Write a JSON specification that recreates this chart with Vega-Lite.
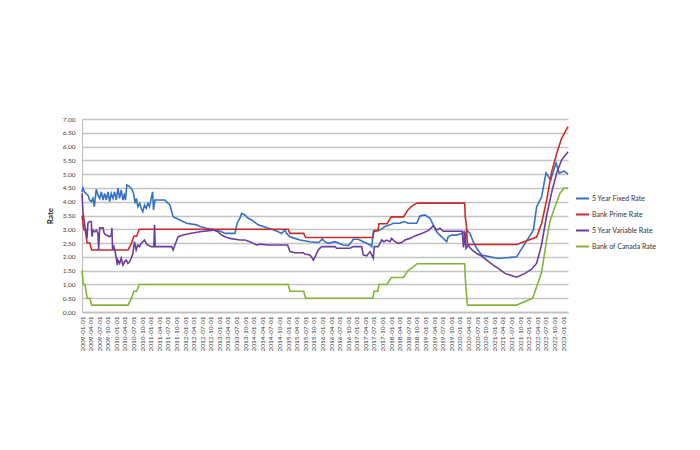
{
 "$schema": "https://vega.github.io/schema/vega-lite/v6.json",
 "width": 486,
 "height": 193,
 "autosize": {"type": "none"},
 "padding": {"left": 82, "top": 119, "right": 132, "bottom": 138},
 "background": "white",
 "config": {"font": "Lato", "view": {"stroke": null}},
 "datasets": {
  "rates": [
   {"date":"2009-01-01","series":"5 Year Fixed Rate","rate":4.35},
   {"date":"2009-01-10","series":"5 Year Fixed Rate","rate":4.5},
   {"date":"2009-01-28","series":"5 Year Fixed Rate","rate":4.35},
   {"date":"2009-03-05","series":"5 Year Fixed Rate","rate":4.24},
   {"date":"2009-03-23","series":"5 Year Fixed Rate","rate":4.06},
   {"date":"2009-04-10","series":"5 Year Fixed Rate","rate":4.0},
   {"date":"2009-04-27","series":"5 Year Fixed Rate","rate":4.12},
   {"date":"2009-05-12","series":"5 Year Fixed Rate","rate":3.82},
   {"date":"2009-06-02","series":"5 Year Fixed Rate","rate":4.45},
   {"date":"2009-06-20","series":"5 Year Fixed Rate","rate":4.24},
   {"date":"2009-07-08","series":"5 Year Fixed Rate","rate":4.12},
   {"date":"2009-07-25","series":"5 Year Fixed Rate","rate":4.36},
   {"date":"2009-08-12","series":"5 Year Fixed Rate","rate":4.06},
   {"date":"2009-08-29","series":"5 Year Fixed Rate","rate":4.3},
   {"date":"2009-09-16","series":"5 Year Fixed Rate","rate":4.06},
   {"date":"2009-10-04","series":"5 Year Fixed Rate","rate":4.36},
   {"date":"2009-10-22","series":"5 Year Fixed Rate","rate":4.0},
   {"date":"2009-11-08","series":"5 Year Fixed Rate","rate":4.3},
   {"date":"2009-11-26","series":"5 Year Fixed Rate","rate":4.12},
   {"date":"2009-12-13","series":"5 Year Fixed Rate","rate":4.36},
   {"date":"2009-12-31","series":"5 Year Fixed Rate","rate":4.06},
   {"date":"2010-01-18","series":"5 Year Fixed Rate","rate":4.49},
   {"date":"2010-02-04","series":"5 Year Fixed Rate","rate":4.12},
   {"date":"2010-02-22","series":"5 Year Fixed Rate","rate":4.43},
   {"date":"2010-03-12","series":"5 Year Fixed Rate","rate":4.06},
   {"date":"2010-03-29","series":"5 Year Fixed Rate","rate":4.3},
   {"date":"2010-04-08","series":"5 Year Fixed Rate","rate":4.06},
   {"date":"2010-04-22","series":"5 Year Fixed Rate","rate":4.61},
   {"date":"2010-05-20","series":"5 Year Fixed Rate","rate":4.55},
   {"date":"2010-06-15","series":"5 Year Fixed Rate","rate":4.45},
   {"date":"2010-07-03","series":"5 Year Fixed Rate","rate":4.3},
   {"date":"2010-07-20","series":"5 Year Fixed Rate","rate":3.94},
   {"date":"2010-08-03","series":"5 Year Fixed Rate","rate":4.12},
   {"date":"2010-08-17","series":"5 Year Fixed Rate","rate":3.82},
   {"date":"2010-09-07","series":"5 Year Fixed Rate","rate":3.94},
   {"date":"2010-09-22","series":"5 Year Fixed Rate","rate":3.76},
   {"date":"2010-10-09","series":"5 Year Fixed Rate","rate":3.64},
   {"date":"2010-10-27","series":"5 Year Fixed Rate","rate":3.88},
   {"date":"2010-11-14","series":"5 Year Fixed Rate","rate":3.76},
   {"date":"2010-12-02","series":"5 Year Fixed Rate","rate":3.94},
   {"date":"2010-12-19","series":"5 Year Fixed Rate","rate":3.82},
   {"date":"2011-01-07","series":"5 Year Fixed Rate","rate":4.12},
   {"date":"2011-01-21","series":"5 Year Fixed Rate","rate":4.36},
   {"date":"2011-01-31","series":"5 Year Fixed Rate","rate":3.7},
   {"date":"2011-02-15","series":"5 Year Fixed Rate","rate":4.06},
   {"date":"2011-06-01","series":"5 Year Fixed Rate","rate":4.06},
   {"date":"2011-07-24","series":"5 Year Fixed Rate","rate":3.88},
   {"date":"2011-08-28","series":"5 Year Fixed Rate","rate":3.46},
   {"date":"2011-11-07","series":"5 Year Fixed Rate","rate":3.34},
   {"date":"2012-01-18","series":"5 Year Fixed Rate","rate":3.22},
   {"date":"2012-05-03","series":"5 Year Fixed Rate","rate":3.16},
   {"date":"2012-06-07","series":"5 Year Fixed Rate","rate":3.1},
   {"date":"2012-08-17","series":"5 Year Fixed Rate","rate":3.04},
   {"date":"2012-11-14","series":"5 Year Fixed Rate","rate":2.98},
   {"date":"2013-01-24","series":"5 Year Fixed Rate","rate":2.91},
   {"date":"2013-02-28","series":"5 Year Fixed Rate","rate":2.85},
   {"date":"2013-06-14","series":"5 Year Fixed Rate","rate":2.85},
   {"date":"2013-07-08","series":"5 Year Fixed Rate","rate":3.22},
   {"date":"2013-08-07","series":"5 Year Fixed Rate","rate":3.4},
   {"date":"2013-08-25","series":"5 Year Fixed Rate","rate":3.58},
   {"date":"2013-09-28","series":"5 Year Fixed Rate","rate":3.52},
   {"date":"2013-11-02","series":"5 Year Fixed Rate","rate":3.4},
   {"date":"2013-12-09","series":"5 Year Fixed Rate","rate":3.34},
   {"date":"2014-02-17","series":"5 Year Fixed Rate","rate":3.16},
   {"date":"2014-04-11","series":"5 Year Fixed Rate","rate":3.1},
   {"date":"2014-06-03","series":"5 Year Fixed Rate","rate":3.04},
   {"date":"2014-07-26","series":"5 Year Fixed Rate","rate":2.98},
   {"date":"2014-09-17","series":"5 Year Fixed Rate","rate":2.91},
   {"date":"2014-10-23","series":"5 Year Fixed Rate","rate":2.85},
   {"date":"2014-11-27","series":"5 Year Fixed Rate","rate":2.98},
   {"date":"2014-12-16","series":"5 Year Fixed Rate","rate":2.85},
   {"date":"2015-01-20","series":"5 Year Fixed Rate","rate":2.73},
   {"date":"2015-03-14","series":"5 Year Fixed Rate","rate":2.67},
   {"date":"2015-05-06","series":"5 Year Fixed Rate","rate":2.61},
   {"date":"2015-08-20","series":"5 Year Fixed Rate","rate":2.55},
   {"date":"2015-11-24","series":"5 Year Fixed Rate","rate":2.52},
   {"date":"2015-12-29","series":"5 Year Fixed Rate","rate":2.65},
   {"date":"2016-01-27","series":"5 Year Fixed Rate","rate":2.55},
   {"date":"2016-03-03","series":"5 Year Fixed Rate","rate":2.49},
   {"date":"2016-05-12","series":"5 Year Fixed Rate","rate":2.55},
   {"date":"2016-08-08","series":"5 Year Fixed Rate","rate":2.43},
   {"date":"2016-10-01","series":"5 Year Fixed Rate","rate":2.41},
   {"date":"2016-11-06","series":"5 Year Fixed Rate","rate":2.55},
   {"date":"2016-11-23","series":"5 Year Fixed Rate","rate":2.64},
   {"date":"2017-01-15","series":"5 Year Fixed Rate","rate":2.64},
   {"date":"2017-03-09","series":"5 Year Fixed Rate","rate":2.55},
   {"date":"2017-04-15","series":"5 Year Fixed Rate","rate":2.49},
   {"date":"2017-05-20","series":"5 Year Fixed Rate","rate":2.43},
   {"date":"2017-06-07","series":"5 Year Fixed Rate","rate":2.37},
   {"date":"2017-06-15","series":"5 Year Fixed Rate","rate":2.62},
   {"date":"2017-06-24","series":"5 Year Fixed Rate","rate":2.91},
   {"date":"2017-09-03","series":"5 Year Fixed Rate","rate":2.98},
   {"date":"2017-10-26","series":"5 Year Fixed Rate","rate":3.1},
   {"date":"2017-12-18","series":"5 Year Fixed Rate","rate":3.16},
   {"date":"2018-01-22","series":"5 Year Fixed Rate","rate":3.22},
   {"date":"2018-04-03","series":"5 Year Fixed Rate","rate":3.22},
   {"date":"2018-05-16","series":"5 Year Fixed Rate","rate":3.28},
   {"date":"2018-07-01","series":"5 Year Fixed Rate","rate":3.22},
   {"date":"2018-09-28","series":"5 Year Fixed Rate","rate":3.22},
   {"date":"2018-11-02","series":"5 Year Fixed Rate","rate":3.48},
   {"date":"2018-12-25","series":"5 Year Fixed Rate","rate":3.52},
   {"date":"2019-02-16","series":"5 Year Fixed Rate","rate":3.4},
   {"date":"2019-03-23","series":"5 Year Fixed Rate","rate":3.16},
   {"date":"2019-04-28","series":"5 Year Fixed Rate","rate":2.91},
   {"date":"2019-06-02","series":"5 Year Fixed Rate","rate":2.79},
   {"date":"2019-07-25","series":"5 Year Fixed Rate","rate":2.61},
   {"date":"2019-08-12","series":"5 Year Fixed Rate","rate":2.55},
   {"date":"2019-08-29","series":"5 Year Fixed Rate","rate":2.73},
   {"date":"2019-10-05","series":"5 Year Fixed Rate","rate":2.79},
   {"date":"2019-11-27","series":"5 Year Fixed Rate","rate":2.79},
   {"date":"2020-01-19","series":"5 Year Fixed Rate","rate":2.85},
   {"date":"2020-02-16","series":"5 Year Fixed Rate","rate":2.91},
   {"date":"2020-02-23","series":"5 Year Fixed Rate","rate":2.43},
   {"date":"2020-03-12","series":"5 Year Fixed Rate","rate":2.98},
   {"date":"2020-04-16","series":"5 Year Fixed Rate","rate":2.85},
   {"date":"2020-05-21","series":"5 Year Fixed Rate","rate":2.55},
   {"date":"2020-06-27","series":"5 Year Fixed Rate","rate":2.3},
   {"date":"2020-08-19","series":"5 Year Fixed Rate","rate":2.07},
   {"date":"2020-11-15","series":"5 Year Fixed Rate","rate":2.0},
   {"date":"2021-02-12","series":"5 Year Fixed Rate","rate":1.94},
   {"date":"2021-08-25","series":"5 Year Fixed Rate","rate":2.0},
   {"date":"2021-11-22","series":"5 Year Fixed Rate","rate":2.49},
   {"date":"2022-02-19","series":"5 Year Fixed Rate","rate":2.97},
   {"date":"2022-03-26","series":"5 Year Fixed Rate","rate":3.82},
   {"date":"2022-05-18","series":"5 Year Fixed Rate","rate":4.18},
   {"date":"2022-07-03","series":"5 Year Fixed Rate","rate":5.05},
   {"date":"2022-08-22","series":"5 Year Fixed Rate","rate":4.79},
   {"date":"2022-10-18","series":"5 Year Fixed Rate","rate":5.4},
   {"date":"2022-11-21","series":"5 Year Fixed Rate","rate":5.03},
   {"date":"2023-01-10","series":"5 Year Fixed Rate","rate":5.11},
   {"date":"2023-02-22","series":"5 Year Fixed Rate","rate":5.0},

   {"date":"2009-01-01","series":"Bank Prime Rate","rate":3.5},
   {"date":"2009-01-20","series":"Bank Prime Rate","rate":3.0},
   {"date":"2009-02-05","series":"Bank Prime Rate","rate":2.95},
   {"date":"2009-02-25","series":"Bank Prime Rate","rate":2.5},
   {"date":"2009-03-25","series":"Bank Prime Rate","rate":2.5},
   {"date":"2009-04-13","series":"Bank Prime Rate","rate":2.25},
   {"date":"2010-05-06","series":"Bank Prime Rate","rate":2.25},
   {"date":"2010-06-11","series":"Bank Prime Rate","rate":2.5},
   {"date":"2010-07-06","series":"Bank Prime Rate","rate":2.75},
   {"date":"2010-08-04","series":"Bank Prime Rate","rate":2.75},
   {"date":"2010-09-01","series":"Bank Prime Rate","rate":3.0},
   {"date":"2015-01-01","series":"Bank Prime Rate","rate":3.0},
   {"date":"2015-01-20","series":"Bank Prime Rate","rate":2.85},
   {"date":"2015-06-15","series":"Bank Prime Rate","rate":2.85},
   {"date":"2015-07-06","series":"Bank Prime Rate","rate":2.7},
   {"date":"2017-06-20","series":"Bank Prime Rate","rate":2.7},
   {"date":"2017-07-01","series":"Bank Prime Rate","rate":2.95},
   {"date":"2017-08-12","series":"Bank Prime Rate","rate":2.95},
   {"date":"2017-08-23","series":"Bank Prime Rate","rate":3.2},
   {"date":"2017-11-16","series":"Bank Prime Rate","rate":3.2},
   {"date":"2018-01-01","series":"Bank Prime Rate","rate":3.45},
   {"date":"2018-05-11","series":"Bank Prime Rate","rate":3.45},
   {"date":"2018-06-26","series":"Bank Prime Rate","rate":3.7},
   {"date":"2018-08-10","series":"Bank Prime Rate","rate":3.85},
   {"date":"2018-10-03","series":"Bank Prime Rate","rate":3.95},
   {"date":"2020-02-20","series":"Bank Prime Rate","rate":3.95},
   {"date":"2020-02-26","series":"Bank Prime Rate","rate":3.45},
   {"date":"2020-03-08","series":"Bank Prime Rate","rate":3.2},
   {"date":"2020-03-20","series":"Bank Prime Rate","rate":2.45},
   {"date":"2021-08-25","series":"Bank Prime Rate","rate":2.45},
   {"date":"2022-03-26","series":"Bank Prime Rate","rate":2.72},
   {"date":"2022-05-18","series":"Bank Prime Rate","rate":3.22},
   {"date":"2022-07-10","series":"Bank Prime Rate","rate":4.06},
   {"date":"2022-09-02","series":"Bank Prime Rate","rate":5.09},
   {"date":"2022-10-25","series":"Bank Prime Rate","rate":5.75},
   {"date":"2022-12-16","series":"Bank Prime Rate","rate":6.3},
   {"date":"2023-02-22","series":"Bank Prime Rate","rate":6.72},

   {"date":"2009-01-01","series":"5 Year Variable Rate","rate":4.3},
   {"date":"2009-01-11","series":"5 Year Variable Rate","rate":3.64},
   {"date":"2009-01-29","series":"5 Year Variable Rate","rate":3.16},
   {"date":"2009-02-16","series":"5 Year Variable Rate","rate":2.85},
   {"date":"2009-02-23","series":"5 Year Variable Rate","rate":2.67},
   {"date":"2009-03-05","series":"5 Year Variable Rate","rate":3.22},
   {"date":"2009-03-23","series":"5 Year Variable Rate","rate":3.28},
   {"date":"2009-04-10","series":"5 Year Variable Rate","rate":3.28},
   {"date":"2009-04-17","series":"5 Year Variable Rate","rate":2.73},
   {"date":"2009-04-27","series":"5 Year Variable Rate","rate":2.97},
   {"date":"2009-05-15","series":"5 Year Variable Rate","rate":2.91},
   {"date":"2009-06-02","series":"5 Year Variable Rate","rate":2.97},
   {"date":"2009-06-20","series":"5 Year Variable Rate","rate":2.85},
   {"date":"2009-06-27","series":"5 Year Variable Rate","rate":2.25},
   {"date":"2009-07-08","series":"5 Year Variable Rate","rate":3.05},
   {"date":"2009-07-25","series":"5 Year Variable Rate","rate":3.05},
   {"date":"2009-08-12","series":"5 Year Variable Rate","rate":3.05},
   {"date":"2009-08-25","series":"5 Year Variable Rate","rate":2.85},
   {"date":"2009-09-16","series":"5 Year Variable Rate","rate":2.79},
   {"date":"2009-10-22","series":"5 Year Variable Rate","rate":2.73},
   {"date":"2009-11-08","series":"5 Year Variable Rate","rate":2.79},
   {"date":"2009-11-15","series":"5 Year Variable Rate","rate":3.05},
   {"date":"2009-11-22","series":"5 Year Variable Rate","rate":2.25},
   {"date":"2009-12-06","series":"5 Year Variable Rate","rate":2.37},
   {"date":"2009-12-20","series":"5 Year Variable Rate","rate":2.19},
   {"date":"2009-12-31","series":"5 Year Variable Rate","rate":1.95},
   {"date":"2010-01-11","series":"5 Year Variable Rate","rate":1.7},
   {"date":"2010-01-18","series":"5 Year Variable Rate","rate":1.88},
   {"date":"2010-02-05","series":"5 Year Variable Rate","rate":1.76},
   {"date":"2010-02-22","series":"5 Year Variable Rate","rate":1.95},
   {"date":"2010-03-12","series":"5 Year Variable Rate","rate":1.7},
   {"date":"2010-03-29","series":"5 Year Variable Rate","rate":1.82},
   {"date":"2010-04-16","series":"5 Year Variable Rate","rate":1.88},
   {"date":"2010-05-04","series":"5 Year Variable Rate","rate":1.76},
   {"date":"2010-05-21","series":"5 Year Variable Rate","rate":1.82},
   {"date":"2010-06-08","series":"5 Year Variable Rate","rate":1.95},
   {"date":"2010-06-26","series":"5 Year Variable Rate","rate":2.13},
   {"date":"2010-07-06","series":"5 Year Variable Rate","rate":2.37},
   {"date":"2010-07-13","series":"5 Year Variable Rate","rate":2.55},
   {"date":"2010-07-31","series":"5 Year Variable Rate","rate":2.25},
   {"date":"2010-08-17","series":"5 Year Variable Rate","rate":2.43},
   {"date":"2010-09-04","series":"5 Year Variable Rate","rate":2.37},
   {"date":"2010-09-22","series":"5 Year Variable Rate","rate":2.49},
   {"date":"2010-10-09","series":"5 Year Variable Rate","rate":2.55},
   {"date":"2010-10-27","series":"5 Year Variable Rate","rate":2.61},
   {"date":"2010-11-14","series":"5 Year Variable Rate","rate":2.49},
   {"date":"2010-12-02","series":"5 Year Variable Rate","rate":2.43},
   {"date":"2011-01-07","series":"5 Year Variable Rate","rate":2.37},
   {"date":"2011-02-04","series":"5 Year Variable Rate","rate":2.37},
   {"date":"2011-02-11","series":"5 Year Variable Rate","rate":3.16},
   {"date":"2011-02-18","series":"5 Year Variable Rate","rate":2.37},
   {"date":"2011-03-18","series":"5 Year Variable Rate","rate":2.37},
   {"date":"2011-08-10","series":"5 Year Variable Rate","rate":2.37},
   {"date":"2011-08-28","series":"5 Year Variable Rate","rate":2.25},
   {"date":"2011-09-15","series":"5 Year Variable Rate","rate":2.43},
   {"date":"2011-10-20","series":"5 Year Variable Rate","rate":2.73},
   {"date":"2011-12-12","series":"5 Year Variable Rate","rate":2.79},
   {"date":"2012-02-22","series":"5 Year Variable Rate","rate":2.85},
   {"date":"2012-06-07","series":"5 Year Variable Rate","rate":2.91},
   {"date":"2012-10-27","series":"5 Year Variable Rate","rate":2.97},
   {"date":"2012-12-16","series":"5 Year Variable Rate","rate":2.91},
   {"date":"2013-01-24","series":"5 Year Variable Rate","rate":2.79},
   {"date":"2013-02-28","series":"5 Year Variable Rate","rate":2.73},
   {"date":"2013-04-21","series":"5 Year Variable Rate","rate":2.67},
   {"date":"2013-08-07","series":"5 Year Variable Rate","rate":2.61},
   {"date":"2013-09-28","series":"5 Year Variable Rate","rate":2.61},
   {"date":"2013-11-20","series":"5 Year Variable Rate","rate":2.55},
   {"date":"2013-12-25","series":"5 Year Variable Rate","rate":2.49},
   {"date":"2014-01-31","series":"5 Year Variable Rate","rate":2.43},
   {"date":"2014-03-07","series":"5 Year Variable Rate","rate":2.46},
   {"date":"2014-06-03","series":"5 Year Variable Rate","rate":2.43},
   {"date":"2014-12-26","series":"5 Year Variable Rate","rate":2.43},
   {"date":"2015-01-20","series":"5 Year Variable Rate","rate":2.19},
   {"date":"2015-03-14","series":"5 Year Variable Rate","rate":2.15},
   {"date":"2015-06-10","series":"5 Year Variable Rate","rate":2.15},
   {"date":"2015-06-28","series":"5 Year Variable Rate","rate":2.1},
   {"date":"2015-08-20","series":"5 Year Variable Rate","rate":2.07},
   {"date":"2015-09-07","series":"5 Year Variable Rate","rate":2.0},
   {"date":"2015-09-24","series":"5 Year Variable Rate","rate":1.88},
   {"date":"2015-10-12","series":"5 Year Variable Rate","rate":1.98},
   {"date":"2015-11-16","series":"5 Year Variable Rate","rate":2.25},
   {"date":"2015-12-22","series":"5 Year Variable Rate","rate":2.37},
   {"date":"2016-05-12","series":"5 Year Variable Rate","rate":2.37},
   {"date":"2016-05-30","series":"5 Year Variable Rate","rate":2.31},
   {"date":"2016-10-19","series":"5 Year Variable Rate","rate":2.31},
   {"date":"2016-11-23","series":"5 Year Variable Rate","rate":2.37},
   {"date":"2017-02-20","series":"5 Year Variable Rate","rate":2.37},
   {"date":"2017-03-09","series":"5 Year Variable Rate","rate":2.07},
   {"date":"2017-04-15","series":"5 Year Variable Rate","rate":2.04},
   {"date":"2017-05-20","series":"5 Year Variable Rate","rate":2.19},
   {"date":"2017-06-07","series":"5 Year Variable Rate","rate":2.07},
   {"date":"2017-06-24","series":"5 Year Variable Rate","rate":1.95},
   {"date":"2017-07-04","series":"5 Year Variable Rate","rate":2.37},
   {"date":"2017-08-13","series":"5 Year Variable Rate","rate":2.37},
   {"date":"2017-09-03","series":"5 Year Variable Rate","rate":2.49},
   {"date":"2017-09-21","series":"5 Year Variable Rate","rate":2.61},
   {"date":"2017-10-15","series":"5 Year Variable Rate","rate":2.55},
   {"date":"2017-11-13","series":"5 Year Variable Rate","rate":2.61},
   {"date":"2017-12-18","series":"5 Year Variable Rate","rate":2.55},
   {"date":"2018-01-05","series":"5 Year Variable Rate","rate":2.67},
   {"date":"2018-02-09","series":"5 Year Variable Rate","rate":2.55},
   {"date":"2018-03-16","series":"5 Year Variable Rate","rate":2.49},
   {"date":"2018-04-21","series":"5 Year Variable Rate","rate":2.52},
   {"date":"2018-05-26","series":"5 Year Variable Rate","rate":2.61},
   {"date":"2018-07-18","series":"5 Year Variable Rate","rate":2.67},
   {"date":"2018-09-09","series":"5 Year Variable Rate","rate":2.76},
   {"date":"2018-11-19","series":"5 Year Variable Rate","rate":2.85},
   {"date":"2019-01-29","series":"5 Year Variable Rate","rate":2.95},
   {"date":"2019-03-23","series":"5 Year Variable Rate","rate":3.12},
   {"date":"2019-04-28","series":"5 Year Variable Rate","rate":2.97},
   {"date":"2019-06-02","series":"5 Year Variable Rate","rate":3.04},
   {"date":"2019-07-07","series":"5 Year Variable Rate","rate":2.93},
   {"date":"2020-01-25","series":"5 Year Variable Rate","rate":2.93},
   {"date":"2020-02-07","series":"5 Year Variable Rate","rate":2.34},
   {"date":"2020-02-20","series":"5 Year Variable Rate","rate":2.9},
   {"date":"2020-03-05","series":"5 Year Variable Rate","rate":2.31},
   {"date":"2020-03-29","series":"5 Year Variable Rate","rate":2.43},
   {"date":"2020-04-16","series":"5 Year Variable Rate","rate":2.33},
   {"date":"2020-05-21","series":"5 Year Variable Rate","rate":2.22},
   {"date":"2020-06-27","series":"5 Year Variable Rate","rate":2.12},
   {"date":"2020-08-19","series":"5 Year Variable Rate","rate":2.03},
   {"date":"2020-10-11","series":"5 Year Variable Rate","rate":1.88},
   {"date":"2020-12-20","series":"5 Year Variable Rate","rate":1.7},
   {"date":"2021-03-01","series":"5 Year Variable Rate","rate":1.54},
   {"date":"2021-04-23","series":"5 Year Variable Rate","rate":1.4},
   {"date":"2021-08-25","series":"5 Year Variable Rate","rate":1.26},
   {"date":"2021-11-22","series":"5 Year Variable Rate","rate":1.4},
   {"date":"2022-02-01","series":"5 Year Variable Rate","rate":1.55},
   {"date":"2022-03-26","series":"5 Year Variable Rate","rate":1.77},
   {"date":"2022-05-18","series":"5 Year Variable Rate","rate":2.45},
   {"date":"2022-07-10","series":"5 Year Variable Rate","rate":3.5},
   {"date":"2022-09-02","series":"5 Year Variable Rate","rate":4.35},
   {"date":"2022-10-25","series":"5 Year Variable Rate","rate":5.05},
   {"date":"2022-12-16","series":"5 Year Variable Rate","rate":5.51},
   {"date":"2023-02-22","series":"5 Year Variable Rate","rate":5.81},

   {"date":"2009-01-01","series":"Bank of Canada Rate","rate":1.5},
   {"date":"2009-01-15","series":"Bank of Canada Rate","rate":1.0},
   {"date":"2009-02-01","series":"Bank of Canada Rate","rate":1.0},
   {"date":"2009-02-25","series":"Bank of Canada Rate","rate":0.5},
   {"date":"2009-03-25","series":"Bank of Canada Rate","rate":0.5},
   {"date":"2009-04-13","series":"Bank of Canada Rate","rate":0.25},
   {"date":"2010-05-06","series":"Bank of Canada Rate","rate":0.25},
   {"date":"2010-06-11","series":"Bank of Canada Rate","rate":0.5},
   {"date":"2010-07-06","series":"Bank of Canada Rate","rate":0.75},
   {"date":"2010-08-04","series":"Bank of Canada Rate","rate":0.75},
   {"date":"2010-09-01","series":"Bank of Canada Rate","rate":1.0},
   {"date":"2015-01-01","series":"Bank of Canada Rate","rate":1.0},
   {"date":"2015-01-20","series":"Bank of Canada Rate","rate":0.75},
   {"date":"2015-06-15","series":"Bank of Canada Rate","rate":0.75},
   {"date":"2015-07-06","series":"Bank of Canada Rate","rate":0.5},
   {"date":"2017-06-20","series":"Bank of Canada Rate","rate":0.5},
   {"date":"2017-07-01","series":"Bank of Canada Rate","rate":0.75},
   {"date":"2017-08-12","series":"Bank of Canada Rate","rate":0.75},
   {"date":"2017-08-23","series":"Bank of Canada Rate","rate":1.0},
   {"date":"2017-11-16","series":"Bank of Canada Rate","rate":1.0},
   {"date":"2018-01-01","series":"Bank of Canada Rate","rate":1.25},
   {"date":"2018-05-11","series":"Bank of Canada Rate","rate":1.25},
   {"date":"2018-06-26","series":"Bank of Canada Rate","rate":1.5},
   {"date":"2018-08-10","series":"Bank of Canada Rate","rate":1.6},
   {"date":"2018-10-03","series":"Bank of Canada Rate","rate":1.75},
   {"date":"2020-02-20","series":"Bank of Canada Rate","rate":1.75},
   {"date":"2020-02-26","series":"Bank of Canada Rate","rate":1.25},
   {"date":"2020-03-08","series":"Bank of Canada Rate","rate":0.75},
   {"date":"2020-03-20","series":"Bank of Canada Rate","rate":0.25},
   {"date":"2021-08-25","series":"Bank of Canada Rate","rate":0.25},
   {"date":"2022-02-12","series":"Bank of Canada Rate","rate":0.5},
   {"date":"2022-05-18","series":"Bank of Canada Rate","rate":1.45},
   {"date":"2022-07-10","series":"Bank of Canada Rate","rate":2.61},
   {"date":"2022-08-14","series":"Bank of Canada Rate","rate":3.28},
   {"date":"2022-10-06","series":"Bank of Canada Rate","rate":3.82},
   {"date":"2022-11-28","series":"Bank of Canada Rate","rate":4.3},
   {"date":"2023-01-10","series":"Bank of Canada Rate","rate":4.5},
   {"date":"2023-02-22","series":"Bank of Canada Rate","rate":4.5}
  ]
 },
 "data": {"name": "rates"},
 "mark": {"type": "line", "strokeWidth": 1.6},
 "encoding": {
  "x": {
   "field": "date",
   "type": "temporal",
   "scale": {"type": "utc", "domain": [{"year": 2009, "month": 1, "date": 1, "utc": true}, {"year": 2023, "month": 2, "date": 22, "utc": true}]},
   "axis": {
    "title": null,
    "format": "%Y-%m-%d",
    "tickCount": {"interval": "month", "step": 3},
    "labelAngle": 270,
    "labelAlign": "right",
    "labelBaseline": "middle",
    "labelFontSize": 6.5,
    "labelColor": "#404040",
    "labelOverlap": false,
    "labelBound": false,
    "labelFlush": false,
    "labelPadding": 4,
    "grid": false,
    "ticks": false,
    "domainColor": "#bfbfbf",
    "domainWidth": 1.5
   }
  },
  "y": {
   "field": "rate",
   "type": "quantitative",
   "scale": {"domain": [0, 7], "nice": false},
   "axis": {
    "title": "Rate",
    "values": [0, 0.5, 1, 1.5, 2, 2.5, 3, 3.5, 4, 4.5, 5, 5.5, 6, 6.5, 7],
    "format": ".2f",
    "labelFontSize": 6.5,
    "labelColor": "#404040",
    "labelPadding": 7,
    "ticks": false,
    "gridColor": "#c4c4c4",
    "gridWidth": 1.4,
    "domainColor": "#bfbfbf",
    "domainWidth": 1.2,
    "titleFontSize": 8,
    "titleFontWeight": "bold",
    "titleColor": "#262626",
    "titleX": -32,
    "titleY": 96.5,
    "titleAngle": 270,
    "titleAlign": "center",
    "titleBaseline": "middle"
   }
  },
  "color": {
   "field": "series",
   "type": "nominal",
   "scale": {
    "domain": ["5 Year Fixed Rate", "Bank Prime Rate", "5 Year Variable Rate", "Bank of Canada Rate"],
    "range": ["#3472c4", "#cc2b2b", "#6b3d9c", "#86b33a"]
   },
   "legend": {
    "title": null,
    "orient": "none",
    "legendX": 493,
    "legendY": 72,
    "symbolType": "stroke",
    "symbolSize": 169,
    "symbolStrokeWidth": 2,
    "labelFontSize": 7,
    "labelColor": "#333333",
    "labelOffset": 2,
    "rowPadding": 4
   }
  }
 }
}
